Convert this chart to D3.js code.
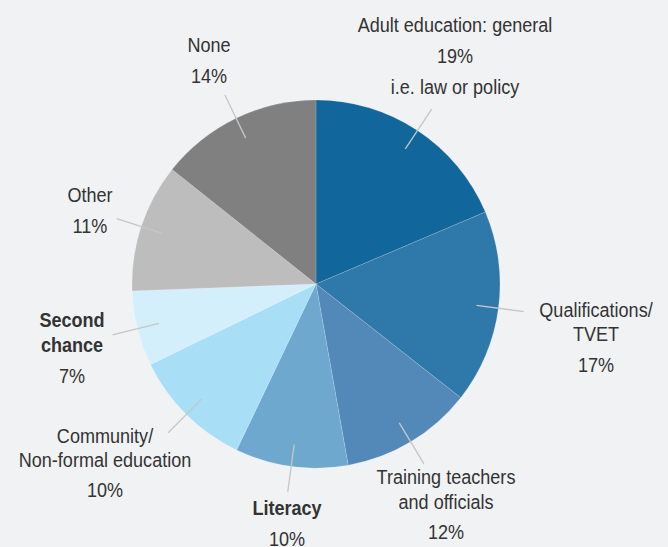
<!DOCTYPE html>
<html><head><meta charset="utf-8">
<script src="https://cdn.jsdelivr.net/npm/d3@7"></script>
<style>
html,body{margin:0;padding:0;background:#f1f2f4;}
svg{display:block;}
text{font-family:"Liberation Sans Narrow","Liberation Sans",Arial,sans-serif;fill:#333;}
</style></head>
<body>
<script>
const categories = ["Adult education: general", "Qualifications/TVET", "Training teachers and officials", "Literacy", "Community/Non-formal education", "Second chance", "Other", "None"];
const values = [18.6, 17.0, 11.6, 9.9, 10.7, 6.6, 11.3, 14.3];
const labelLines = [["Adult education: general", "19%", "i.e. law or policy"], ["Qualifications/", "TVET", "17%"], ["Training teachers", "and officials", "12%"], ["Literacy", "10%"], ["Community/", "Non-formal education", "10%"], ["Second", "chance", "7%"], ["Other", "11%"], ["None", "14%"]];
const boldCats = ["Literacy", "Second chance"];
const colors = ["#11679c", "#2f79aa", "#5289b8", "#6fa8cf", "#a9def7", "#d3effb", "#bdbdbd", "#808080"];

const W = 668, H = 547;
const cx = 316, cy = 284, R = 184;
const svg = d3.select("body").append("svg").attr("width", W).attr("height", H);
svg.append("rect").attr("width", W).attr("height", H).attr("fill", "#f1f2f4");

const data = categories.map((c, i) => ({cat: c, value: values[i], lines: labelLines[i], color: colors[i]}));
const pie = d3.pie().value(d => d.value).sort(null);
const arcs = pie(data);
const arc = d3.arc().innerRadius(0).outerRadius(R);
const g = svg.append("g").attr("transform", `translate(${cx},${cy})`);

g.selectAll("path.slice").data(arcs).join("path")
  .attr("class", "slice")
  .attr("d", arc)
  .attr("fill", d => d.data.color)
  .attr("stroke", "rgba(255,255,255,0.3)")
  .attr("stroke-width", 0.5);

const inner = d3.arc().innerRadius(R * 0.88).outerRadius(R * 0.88);
const outer = d3.arc().innerRadius(R * 1.14).outerRadius(R * 1.14);
g.selectAll("line.leader").data(arcs).join("line")
  .attr("class", "leader")
  .attr("x1", d => inner.centroid(d)[0]).attr("y1", d => inner.centroid(d)[1])
  .attr("x2", d => outer.centroid(d)[0]).attr("y2", d => outer.centroid(d)[1])
  .attr("stroke", "#c6c6c6").attr("stroke-width", 1.3);

// label layout: centre x and first baseline y, relative to pie centre; gaps between lines
const layout = [
  {x: 139, y: -252, gaps: [31, 31]},   // adult
  {x: 280, y: 33, gaps: [24, 31]},     // qualifications
  {x: 130, y: 200, gaps: [25, 30]},    // training
  {x: -29, y: 231, gaps: [31]},        // literacy
  {x: -211, y: 159, gaps: [24, 30]},   // community
  {x: -244, y: 43, gaps: [25, 31]},    // second chance
  {x: -226, y: -82, gaps: [31]},       // other
  {x: -107, y: -232, gaps: [31]}       // none
];
const SX = 0.86;

arcs.forEach((d, i) => {
  const L = layout[i];
  const t = g.append("text")
    .attr("text-anchor", "middle")
    .attr("font-size", 21)
    .attr("transform", `translate(${L.x},0) scale(${SX},1)`)
    .attr("font-weight", boldCats.includes(d.data.cat) ? "bold" : "normal");
  let y = L.y;
  d.data.lines.forEach((ln, j) => {
    if (j > 0) y += L.gaps[j - 1];
    const isPct = /%$/.test(ln);
    t.append("tspan").attr("x", 0).attr("y", y)
      .attr("font-weight", isPct ? "normal" : null)
      .text(ln);
  });
});
</script>
</body></html>
